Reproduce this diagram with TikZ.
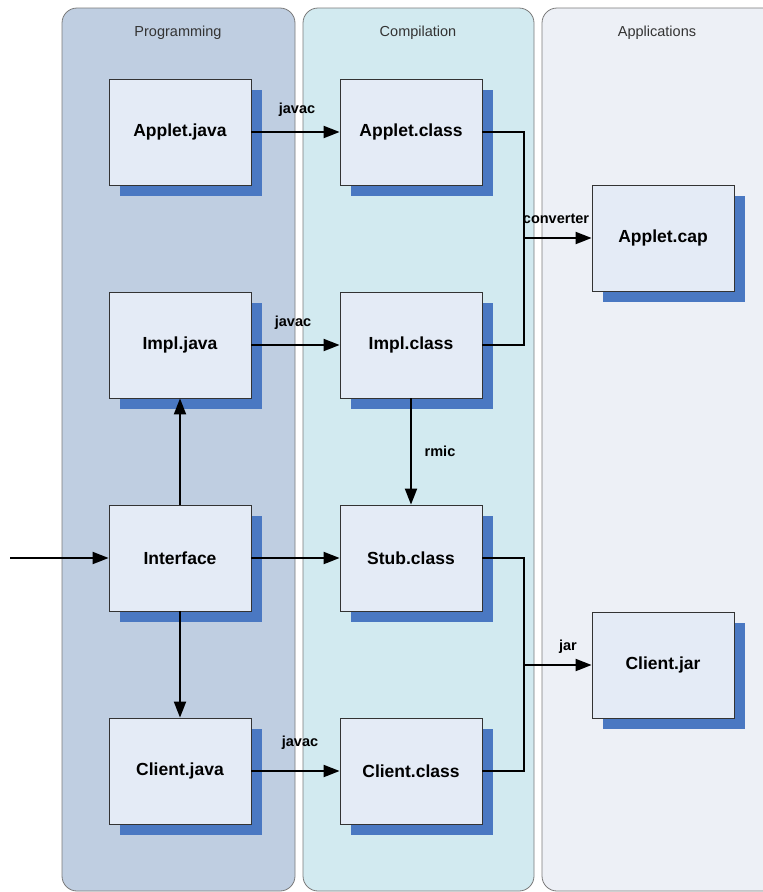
\documentclass[tikz,border=0pt]{standalone}
\usepackage{fontspec}
\setmainfont{Liberation Sans}
\usetikzlibrary{shadows,arrows.meta}
\definecolor{laneA}{HTML}{BFCEE1}
\definecolor{laneB}{HTML}{D2EAF0}
\definecolor{laneC}{HTML}{EDF0F6}
\definecolor{boxfill}{HTML}{E4EBF6}
\definecolor{shadowblue}{HTML}{4A78C2}
\definecolor{lanedraw}{HTML}{7A7A7A}
\begin{document}
\begin{tikzpicture}[x=1pt,y=-1pt,
  lane/.style={draw=lanedraw,line width=0.8pt,rounded corners=15pt},
  lanetitle/.style={font=\fontsize{14.5}{16}\selectfont,text=black!80},
  box/.style={draw=black!80,line width=0.8pt,fill=boxfill,minimum width=142pt,minimum height=106pt,inner sep=0pt,
    font=\fontsize{17.5}{19}\selectfont\bfseries,
    drop shadow={shadow xshift=11pt,shadow yshift=-11pt,fill=shadowblue,opacity=1}},
  conn/.style={line width=2pt,-{Triangle[length=16pt,width=12pt]}},
  plain/.style={line width=2pt},
  lbl/.style={font=\fontsize{14.5}{16}\selectfont\bfseries,inner sep=0pt}
]
\useasboundingbox (0,0) rectangle (763,892);
\begin{scope}
\clip (0,0) rectangle (763,892);
\draw[lane,fill=laneA] (62,8) rectangle (295,891);
\draw[lane,fill=laneB] (303,8) rectangle (534,891);
\draw[lane,fill=laneC] (542,8) rectangle (790,891);
\end{scope}
\node[lanetitle] (tA) at (178,33) {Programming};
\node[lanetitle] (tB) at (418,33) {Compilation};
\node[lanetitle] (tC) at (657,33) {Applications};

\node[box] (aj) at (180,132) {Applet.java};
\node[box] (ij) at (180,345) {Impl.java};
\node[box] (if) at (180,558) {Interface};
\node[box] (cj) at (180,771) {Client.java};
\node[box] (ac) at (411,132) {Applet.class};
\node[box] (ic) at (411,345) {Impl.class};
\node[box] (sc) at (411,558) {Stub.class};
\node[box] (cc) at (411,771) {Client.class};
\node[box] (cap) at (663,238) {Applet.cap};
\node[box] (jar) at (663,665) {Client.jar};

\coordinate (in) at (10,558);
\coordinate (j1) at (524,238);
\coordinate (j2) at (524,665);

\draw[conn] (in) -- (if);
\draw[conn] (aj) -- (ac);
\draw[conn] (ij) -- (ic);
\draw[conn] (if) -- (sc);
\draw[conn] (cj) -- (cc);
\draw[conn] (if) -- (ij);
\draw[conn] (if) -- (cj);
\draw[conn] (ic) -- (sc);
\draw[plain] (ac.east) -| (j1) |- (ic.east);
\draw[conn] (j1) -- (cap);
\draw[plain] (sc.east) -| (j2) |- (cc.east);
\draw[conn] (j2) -- (jar);

\node[lbl] (l1) at (297,110) {javac};
\node[lbl] (l2) at (293,323) {javac};
\node[lbl] (l3) at (300,743) {javac};
\node[lbl] (l4) at (440,451) {rmic};
\node[lbl] (l5) at (556,219) {converter};
\node[lbl] (l6) at (568,647) {jar};
\end{tikzpicture}
\end{document}
